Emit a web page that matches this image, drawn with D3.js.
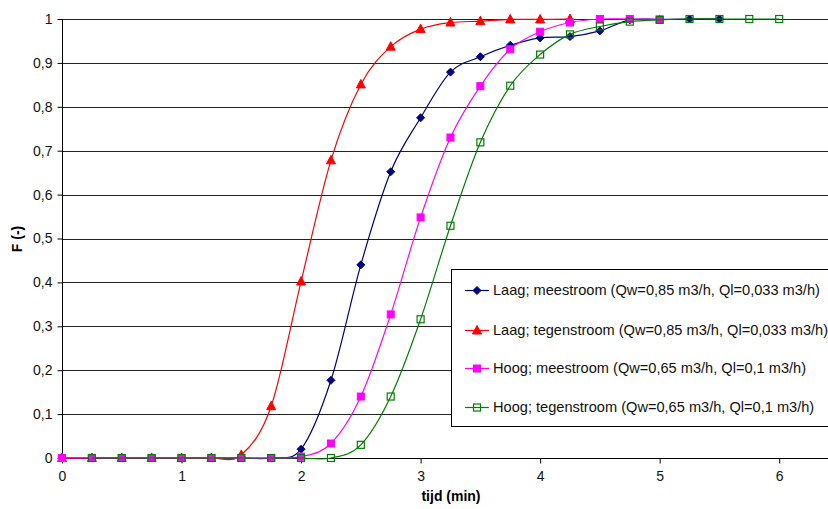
<!DOCTYPE html>
<html>
<head>
<meta charset="utf-8">
<script src="https://cdn.jsdelivr.net/npm/d3@7"></script>
<style>
  body { margin: 0; background: #fff; }
  text { font-family: "Liberation Sans", Arial, sans-serif; }
</style>
</head>
<body>
<svg id="chart" width="828" height="509"></svg>
<script>
// time in minutes, every 0.25 min
var tijd = [0, 0.25, 0.5, 0.75, 1, 1.25, 1.5, 1.75, 2, 2.25, 2.5, 2.75, 3, 3.25, 3.5, 3.75, 4, 4.25, 4.5, 4.75, 5, 5.25, 5.5, 5.75, 6];

var laagMee = [0, 0, 0, 0, 0, 0, 0, 0, 0.02, 0.177, 0.44, 0.652, 0.775, 0.879, 0.914, 0.94, 0.957, 0.96, 0.973, 0.998, 0.999, 1, 1];
var laagTegen = [0, 0, 0, 0, 0, 0, 0.007, 0.118, 0.402, 0.678, 0.851, 0.937, 0.977, 0.992, 0.995, 0.999, 0.999, 1];
var hoogMee = [0, 0, 0, 0, 0, 0, 0, 0, 0.003, 0.033, 0.14, 0.327, 0.548, 0.73, 0.847, 0.931, 0.971, 0.992, 1, 1, 0.999];
// green one starts at 0.25
var hoogTegen = [null, 0, 0, 0, 0, 0, 0, 0, 0, 0, 0.03, 0.14, 0.316, 0.529, 0.719, 0.848, 0.919, 0.965, 0.983, 0.994, 0.998, 1, 1, 1, 1];

var yTicks = [0, 0.1, 0.2, 0.3, 0.4, 0.5, 0.6, 0.7, 0.8, 0.9, 1];
var xTicks = [0, 1, 2, 3, 4, 5, 6];

var series = [
    { name: "Laag; meestroom (Qw=0,85 m3/h, Ql=0,033 m3/h)", values: laagMee, color: "#000080", marker: "diamond" },
    { name: "Laag; tegenstroom (Qw=0,85 m3/h, Ql=0,033 m3/h)", values: laagTegen, color: "#ff0000", marker: "triangle" },
    { name: "Hoog; meestroom (Qw=0,65 m3/h, Ql=0,1 m3/h)", values: hoogMee, color: "#ff00ff", marker: "square" },
    { name: "Hoog; tegenstroom (Qw=0,65 m3/h, Ql=0,1 m3/h)", values: hoogTegen, color: "#008000", marker: "open" }
];

var svg = d3.select("#chart");

var x = d3.scaleLinear().domain([0, 6.4]).range([62, 827]);
var y = d3.scaleLinear().domain([0, 1]).range([458, 19]);

// gridlines
svg.append("g")
    .selectAll("line")
    .data(yTicks.slice(1))
    .enter().append("line")
    .attr("x1", 62).attr("x2", 828)
    .attr("y1", function (d) { return Math.round(y(d)) + 0.5; })
    .attr("y2", function (d) { return Math.round(y(d)) + 0.5; })
    .style("stroke", "#222")
    .style("stroke-width", 1);

// axes
var yAxis = d3.axisLeft(y).tickValues(yTicks).tickSize(5).tickPadding(5)
    .tickFormat(function (d) { return d3.format(".1~f")(d).replace(".", ","); });
var gy = svg.append("g").attr("transform", "translate(62.5,0)").call(yAxis);

var xAxis = d3.axisBottom(x).tickValues(xTicks).tickSize(5).tickPadding(8).tickFormat(d3.format("d"));
var gx = svg.append("g").attr("transform", "translate(0," + (Math.round(y(0)) + 0.5) + ")").call(xAxis);

gx.select(".domain").attr("d", "M62,0H828").style("stroke", "#000");
gy.select(".domain").attr("d", "M0," + y(1) + "V" + y(0)).style("stroke", "#000");
[gx, gy].forEach(function (g) {
    g.selectAll("text").style("font-size", "14px").style("fill", "#111")
        .style("font-family", "'Liberation Sans', Arial, sans-serif");
    g.selectAll(".tick line").style("stroke", "#000");
});

svg.append("text")
    .attr("x", 451).attr("y", 501)
    .attr("text-anchor", "middle")
    .style("font-size", "14px").style("font-weight", "bold")
    .text("tijd (min)");

svg.append("text")
    .attr("transform", "translate(22,239) rotate(-90)")
    .attr("text-anchor", "middle")
    .style("font-size", "14px").style("font-weight", "bold")
    .text("F (-)");

function drawMarker(g, type, color, cx, cy) {
    if (type == "diamond") {
        g.append("path").attr("d", "M" + cx + "," + (cy - 4) + "L" + (cx + 4) + "," + cy + "L" + cx + "," + (cy + 4) + "L" + (cx - 4) + "," + cy + "Z")
            .style("fill", color).style("stroke", color);
    } else if (type == "triangle") {
        g.append("path").attr("d", "M" + cx + "," + (cy - 5) + "L" + (cx + 4.5) + "," + (cy + 3.5) + "L" + (cx - 4.5) + "," + (cy + 3.5) + "Z")
            .style("fill", color).style("stroke", color);
    } else if (type == "square") {
        g.append("rect").attr("x", cx - 3.5).attr("y", cy - 3.5).attr("width", 7).attr("height", 7)
            .style("fill", color).style("stroke", color);
    } else {
        g.append("rect").attr("x", cx - 3.5).attr("y", cy - 3.5).attr("width", 7).attr("height", 7)
            .style("fill", "none").style("stroke", color).style("stroke-width", 1.2);
    }
}

var line = d3.line()
    .defined(function (d) { return d[1] != null; })
    .x(function (d) { return x(d[0]); })
    .y(function (d) { return y(d[1]); })
    .curve(d3.curveCatmullRom.alpha(0));

series.forEach(function (s) {
    var pts = s.values.map(function (v, i) { return [tijd[i], v]; });
    var g = svg.append("g");
    g.append("path")
        .attr("d", line(pts))
        .style("fill", "none")
        .style("stroke", s.color)
        .style("stroke-width", 1.2);
    pts.forEach(function (p) {
        if (p[1] == null) return;
        drawMarker(g, s.marker, s.color, x(p[0]), y(p[1]));
    });
});

// legend
var lg = svg.append("g");
lg.append("rect")
    .attr("x", 451.5).attr("y", 269.5)
    .attr("width", 400).attr("height", 157)
    .style("fill", "#fff").style("stroke", "#000");

var legendY = [290, 330, 368, 407];
series.forEach(function (s, i) {
    var ly = legendY[i];
    lg.append("line")
        .attr("x1", 465).attr("x2", 489)
        .attr("y1", ly + 0.5).attr("y2", ly + 0.5)
        .style("stroke", s.color).style("stroke-width", 1.2);
    drawMarker(lg, s.marker, s.color, 477, ly + 0.5);
    lg.append("text")
        .attr("x", 493).attr("y", ly + 5)
        .style("font-size", "14.6px").style("fill", "#111")
        .text(s.name);
});
</script>
</body>
</html>
